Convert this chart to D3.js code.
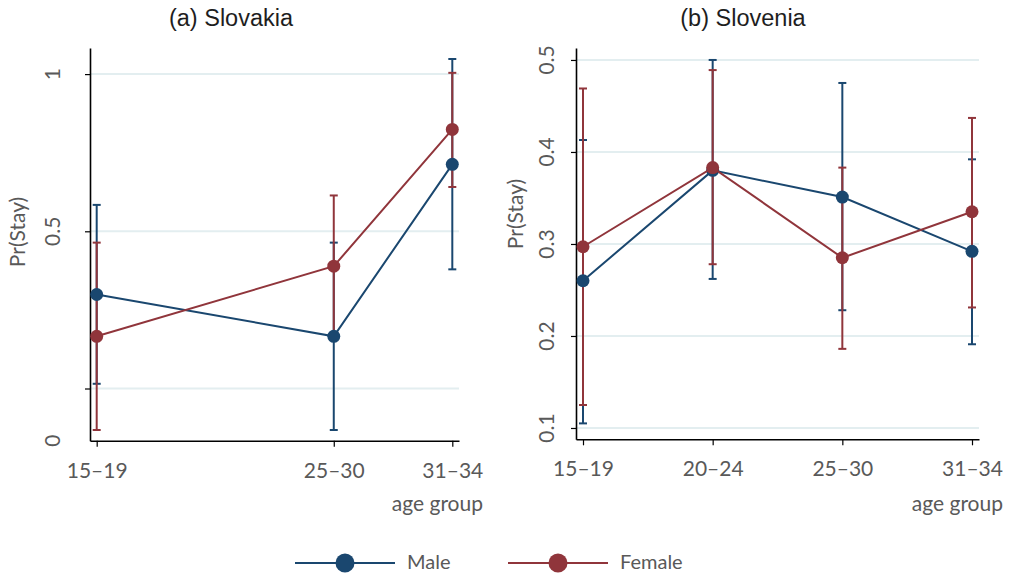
<!DOCTYPE html>
<html>
<head>
<meta charset="utf-8">
<script src="https://cdn.jsdelivr.net/npm/d3@7"></script>
<style>
  html, body { margin: 0; padding: 0; background: #fff; }
  svg { display: block; }
</style>
</head>
<body>
<svg id="chart" width="1011" height="574"></svg>
<script>
// ---- data ----
const ageGroups = ["15–19", "20–24", "25–30", "31–34"];
const ageIndex = [1, 2, 3, 4];

// (a) Slovakia (no 20–24 group)
const skAgeIndex = [1, 3, 4];
const skMale = [0.299, 0.166, 0.713];
const skMaleLo = [0.015, -0.132, 0.379];
const skMaleHi = [0.584, 0.464, 1.048];
const skFemale = [0.166, 0.389, 0.824];
const skFemaleLo = [-0.132, 0.164, 0.641];
const skFemaleHi = [0.464, 0.614, 1.004];
const skYTicks = [0, 0.5, 1];
const skYTickLabels = ["", "0.5", "1"];
const skYBottomLabel = "0";

// (b) Slovenia
const siMale = [0.260, 0.380, 0.351, 0.292];
const siMaleLo = [0.105, 0.262, 0.228, 0.191];
const siMaleHi = [0.413, 0.500, 0.475, 0.392];
const siFemale = [0.297, 0.383, 0.285, 0.335];
const siFemaleLo = [0.125, 0.278, 0.186, 0.231];
const siFemaleHi = [0.469, 0.489, 0.383, 0.437];
const siYTicks = [0.1, 0.2, 0.3, 0.4, 0.5];
const siYTickLabels = ["0.1", "0.2", "0.3", "0.4", "0.5"];

const seriesNames = ["Male", "Female"];
const colors = ["#1a476f", "#90353b"];

// ---- drawing ----
const svg = d3.select("#chart");
const tickFont = "Lato, 'Open Sans', sans-serif";
const tickColor = "#595959";

function panel(cfg) {
  const g = svg.append("g");
  const x = d3.scaleLinear().domain(cfg.xDomain).range(cfg.xRange);
  const y = d3.scaleLinear().domain(cfg.yDomain).range(cfg.yRange);

  // gridlines
  g.append("g").selectAll("line").data(cfg.yTicks).join("line")
    .attr("x1", cfg.xRange[0] + 1).attr("x2", cfg.xRange[1])
    .attr("y1", d => y(d)).attr("y2", d => y(d))
    .attr("stroke", "#e3eef0").attr("stroke-width", 2);

  // y axis
  const yAxis = d3.axisLeft(y).tickValues(cfg.yTicks).tickSize(5).tickSizeOuter(0).tickFormat("");
  const ya = g.append("g").attr("transform", `translate(${cfg.xRange[0]},0)`).call(yAxis);
  ya.select(".domain").attr("stroke", "#000").attr("stroke-width", 1.6);
  ya.selectAll(".tick line").attr("stroke", "#000").attr("stroke-width", 1.2);

  // y tick labels (rotated)
  const yLabels = cfg.yTicks.map((v, i) => ({ v, t: cfg.yTickLabels[i] }));
  if (cfg.yBottomLabel) yLabels.push({ v: cfg.yDomain[0], t: cfg.yBottomLabel });
  g.append("g").selectAll("text").data(yLabels.filter(d => d.t !== "")).join("text")
    .attr("transform", d => `translate(${cfg.yLabelX},${y(d.v)}) rotate(-90)`)
    .attr("text-anchor", "middle").attr("dy", "0.36em")
    .style("font-family", tickFont).style("font-size", "21px").attr("fill", tickColor)
    .text(d => d.t);

  // y title
  g.append("text")
    .attr("transform", `translate(${cfg.yTitleX},${cfg.yTitleY}) rotate(-90)`)
    .attr("text-anchor", "middle").attr("dy", "0.36em")
    .style("font-family", tickFont).style("font-size", "21px").attr("fill", tickColor)
    .text("Pr(Stay)");

  // x axis
  const xAxis = d3.axisBottom(x).tickValues(cfg.xTicks).tickSize(6).tickSizeOuter(0)
    .tickFormat(d => ageGroups[d - 1]);
  const xa = g.append("g").attr("transform", `translate(0,${cfg.yRange[0]})`).call(xAxis);
  xa.select(".domain").attr("stroke", "#000").attr("stroke-width", 1.6);
  xa.selectAll(".tick line").attr("stroke", "#000").attr("stroke-width", 1.2);
  xa.selectAll(".tick text").attr("y", 0).attr("dy", 0)
    .attr("transform", "translate(0,37)")
    .style("font-family", tickFont).style("font-size", "21px").attr("fill", tickColor);

  // x title
  g.append("text").attr("x", cfg.xTitleX).attr("y", 511).attr("text-anchor", "end")
    .style("font-family", tickFont).style("font-size", "21px").attr("fill", tickColor)
    .text("age group");

  // title
  g.append("text").attr("x", cfg.titleX).attr("y", 26).attr("text-anchor", "middle")
    .style("font-family", "'Liberation Sans', Arial, sans-serif").style("font-size", "23.5px")
    .attr("fill", "#1e1e1e").text(cfg.title);

  // error bars
  cfg.series.forEach((s, si) => {
    const eg = g.append("g").attr("stroke", colors[si]).attr("stroke-width", 2).attr("fill", "none");
    s.vals.forEach((v, i) => {
      const cx = x(cfg.xTicks[i]);
      eg.append("line").attr("x1", cx).attr("x2", cx).attr("y1", y(s.lo[i])).attr("y2", y(s.hi[i]));
      eg.append("line").attr("x1", cx - 4).attr("x2", cx + 4).attr("y1", y(s.lo[i])).attr("y2", y(s.lo[i]));
      eg.append("line").attr("x1", cx - 4).attr("x2", cx + 4).attr("y1", y(s.hi[i])).attr("y2", y(s.hi[i]));
    });
  });

  // lines + points
  cfg.series.forEach((s, si) => {
    const pts = s.vals.map((v, i) => [x(cfg.xTicks[i]), y(v)]);
    g.append("path").attr("d", d3.line()(pts)).attr("fill", "none")
      .attr("stroke", colors[si]).attr("stroke-width", 2);
    g.append("g").selectAll("circle").data(pts).join("circle")
      .attr("cx", d => d[0]).attr("cy", d => d[1]).attr("r", 6.5).attr("fill", colors[si]);
  });
}

panel({
  title: "(a) Slovakia", titleX: 231,
  xDomain: [0.9435, 4.0565], xRange: [90, 459], xTicks: skAgeIndex,
  yDomain: [-0.166, 1.083], yRange: [440.7, 48],
  yTicks: skYTicks, yTickLabels: skYTickLabels, yBottomLabel: skYBottomLabel,
  yLabelX: 52, yTitleX: 17, yTitleY: 232, xTitleX: 483,
  series: [
    { vals: skMale, lo: skMaleLo, hi: skMaleHi },
    { vals: skFemale, lo: skFemaleLo, hi: skFemaleHi }
  ]
});

panel({
  title: "(b) Slovenia", titleX: 743,
  xDomain: [0.946, 4.054], xRange: [576, 979], xTicks: ageIndex,
  yDomain: [0.0877, 0.513], yRange: [439.3, 48],
  yTicks: siYTicks, yTickLabels: siYTickLabels, yBottomLabel: null,
  yLabelX: 546, yTitleX: 515, yTitleY: 214, xTitleX: 1003,
  series: [
    { vals: siMale, lo: siMaleLo, hi: siMaleHi },
    { vals: siFemale, lo: siFemaleLo, hi: siFemaleHi }
  ]
});

// legend
const legendX = [295, 508];
const lg = svg.append("g");
seriesNames.forEach((name, i) => {
  const x0 = legendX[i], yL = 563;
  lg.append("line").attr("x1", x0).attr("x2", x0 + 100).attr("y1", yL).attr("y2", yL)
    .attr("stroke", colors[i]).attr("stroke-width", 2);
  lg.append("circle").attr("cx", x0 + 50).attr("cy", yL).attr("r", 9.5).attr("fill", colors[i]);
  lg.append("text").attr("x", x0 + 112).attr("y", 569)
    .style("font-family", tickFont).style("font-size", "20px").attr("fill", tickColor)
    .text(name);
});
</script>
</body>
</html>
